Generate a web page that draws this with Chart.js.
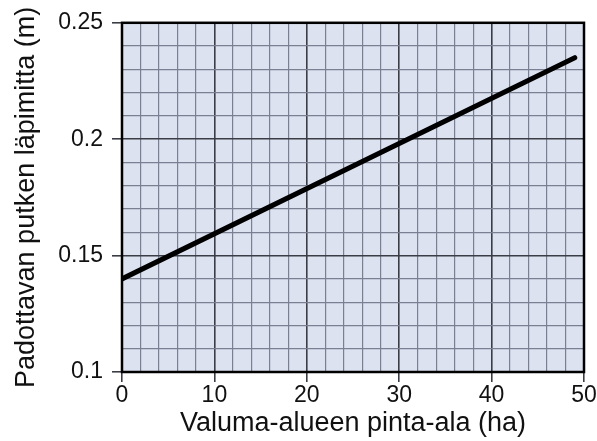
<!DOCTYPE html>
<html>
<head>
<meta charset="utf-8">
<script src="https://cdn.jsdelivr.net/npm/chart.js@4"></script>
<style>
  html, body { margin: 0; padding: 0; background: #fff; }
  #wrap { width: 597px; height: 441px; }
</style>
</head>
<body>
<div id="wrap"><canvas id="chart" width="597" height="441"></canvas></div>
<script>
// Data
const areaHa = [0, 49];
const pipeDiameter = [0.14, 0.235];

// Axis ranges and labelled ticks
const xMajorLabels = [0, 10, 20, 30, 40, 50];
const xMinorStep = 2;
const yMajorLabels = [0.1, 0.15, 0.2, 0.25];
const yMinorStep = 0.01;

const xTitle = 'Valuma-alueen pinta-ala (ha)';
const yTitle = 'Padottavan putken läpimitta (m)';

const fontFamily = '"Liberation Sans", Arial, sans-serif';

function buildTicks(min, max, step) {
    const ticks = [];
    const n = Math.round((max - min) / step);
    for (let i = 0; i <= n; i++) {
        ticks.push({ value: Math.round((min + i * step) * 1000) / 1000 });
    }
    return ticks;
}

function isMajor(value, majors) {
    return majors.some(m => Math.abs(m - value) < 1e-6);
}

// Plot background + frame
const framePlugin = {
    id: 'frame',
    beforeDraw(chart) {
        const { ctx, chartArea: a } = chart;
        ctx.save();
        ctx.fillStyle = '#dde2f0';
        ctx.fillRect(a.left, a.top, a.right - a.left, a.bottom - a.top);
        ctx.restore();
    },
    afterDraw(chart) {
        const { ctx, chartArea: a } = chart;
        ctx.save();
        ctx.strokeStyle = '#000';
        ctx.lineWidth = 2.5;
        ctx.strokeRect(a.left, a.top, a.right - a.left, a.bottom - a.top);
        ctx.restore();
    }
};

const ctx = document.getElementById('chart').getContext('2d');
new Chart(ctx, {
    type: 'line',
    data: {
        datasets: [{
            data: areaHa.map((x, i) => ({ x: x, y: pipeDiameter[i] })),
            borderColor: '#000',
            borderWidth: 5,
            borderCapStyle: 'round',
            pointRadius: 0,
            tension: 0
        }]
    },
    options: {
        responsive: false,
        animation: false,
        events: [],
        layout: { padding: { top: 17, right: 13, left: 0, bottom: 0 } },
        plugins: {
            legend: { display: false },
            tooltip: { enabled: false }
        },
        scales: {
            x: {
                type: 'linear',
                min: xMajorLabels[0],
                max: xMajorLabels[xMajorLabels.length - 1],
                afterBuildTicks: (scale) => {
                    scale.ticks = buildTicks(scale.min, scale.max, xMinorStep);
                },
                afterFit: (scale) => { scale.height = 69; },
                grid: {
                    drawTicks: true,
                    tickLength: 10,
                    color: (c) => isMajor(c.tick.value, xMajorLabels) ? '#3a3d45' : '#7a8092',
                    lineWidth: (c) => isMajor(c.tick.value, xMajorLabels) ? 1.6 : 1.2,
                    tickColor: (c) => isMajor(c.tick.value, xMajorLabels) ? '#3a3d45' : 'rgba(0,0,0,0)'
                },
                border: { display: false },
                ticks: {
                    autoSkip: false,
                    maxRotation: 0,
                    padding: 0,
                    color: '#111',
                    font: { family: fontFamily, size: 23 },
                    callback: (v) => isMajor(v, xMajorLabels) ? String(v) : ''
                },
                title: {
                    display: true,
                    text: xTitle,
                    color: '#111',
                    font: { family: fontFamily, size: 27 },
                    padding: { top: 0, bottom: 1 }
                }
            },
            y: {
                type: 'linear',
                min: yMajorLabels[0],
                max: yMajorLabels[yMajorLabels.length - 1],
                afterBuildTicks: (scale) => {
                    scale.ticks = buildTicks(scale.min, scale.max, yMinorStep);
                },
                afterFit: (scale) => { scale.width = 122; },
                grid: {
                    drawTicks: true,
                    tickLength: 10,
                    color: (c) => isMajor(c.tick.value, yMajorLabels) ? '#3a3d45' : '#7a8092',
                    lineWidth: (c) => isMajor(c.tick.value, yMajorLabels) ? 1.6 : 1.2,
                    tickColor: (c) => isMajor(c.tick.value, yMajorLabels) ? '#3a3d45' : 'rgba(0,0,0,0)'
                },
                border: { display: false },
                ticks: {
                    autoSkip: false,
                    padding: 9,
                    color: '#111',
                    font: { family: fontFamily, size: 23 },
                    callback: (v) => isMajor(v, yMajorLabels) ? String(v) : ''
                },
                title: {
                    display: true,
                    text: yTitle,
                    color: '#111',
                    font: { family: fontFamily, size: 27 },
                    padding: { top: 10, bottom: 0 }
                }
            }
        }
    },
    plugins: [framePlugin]
});
</script>
</body>
</html>
